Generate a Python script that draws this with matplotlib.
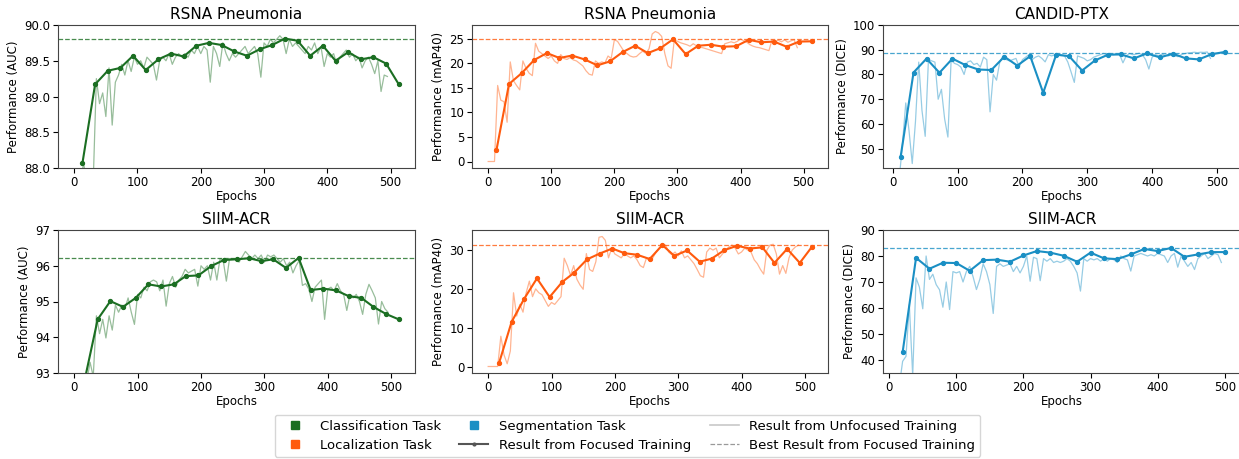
import numpy as np
import matplotlib
matplotlib.use("Agg")
import matplotlib.pyplot as plt
from matplotlib.lines import Line2D

# colours per task
GREEN = "#1b6e22"
ORANGE = "#ff5a0d"
BLUE = "#1a8fc4"

# ---- RSNA Pneumonia, classification (AUC) ----
cls1_ep = [13, 33, 53, 73, 93, 113, 133, 153, 173, 193, 213, 233, 253, 273, 293,
           313, 333, 353, 373, 393, 413, 433, 453, 473, 493, 513]
cls1_focus = [88.07, 89.17, 89.36, 89.40, 89.57, 89.37, 89.52, 89.60, 89.56, 89.71,
              89.75, 89.72, 89.63, 89.57, 89.66, 89.72, 89.81, 89.78, 89.57, 89.71,
              89.50, 89.62, 89.52, 89.55, 89.46, 89.17]
cls1_best = 89.81
cls1_start = 0
cls1_unfocus = [87.6, 87.7, 87.9, 88.05, 87.8, 87.7, 87.8, 89.25, 88.9, 89.05,
                88.72, 89.4, 88.6, 89.2, 89.3, 89.45, 89.3, 89.5, 89.35, 89.55,
                89.45, 89.5, 89.4, 89.55, 89.5, 89.45, 89.23, 89.5, 89.55, 89.5,
                89.6, 89.45, 89.55, 89.6, 89.55, 89.6, 89.55, 89.65, 89.6, 89.7,
                89.6, 89.7, 89.65, 89.2, 89.7, 89.6, 89.42, 89.75, 89.6, 89.5,
                89.6, 89.55, 89.6, 89.65, 89.7, 89.6, 89.65, 89.7, 89.6, 89.27,
                89.75, 89.7, 89.8, 89.75, 89.8, 89.85, 89.8, 89.6, 89.8, 89.7,
                89.75, 89.7, 89.65, 89.6, 89.7, 89.65, 89.75, 89.6, 89.7, 89.42,
                89.6, 89.55, 89.6, 89.45, 89.55, 89.6, 89.65, 89.55, 89.6, 89.5,
                89.55, 89.4, 89.5, 89.55, 89.45, 89.32, 89.5, 89.07, 89.3, 89.28]

# ---- RSNA Pneumonia, localization (mAP40) ----
loc1_ep = [13, 33, 53, 73, 93, 113, 133, 153, 173, 193, 213, 233, 253, 273, 293,
           313, 333, 353, 373, 393, 413, 433, 453, 473, 493, 513]
loc1_focus = [2.25, 15.8, 18.0, 20.7, 22.1, 21.1, 21.6, 20.8, 19.6, 20.4, 22.3, 23.6,
              22.1, 23.1, 24.9, 21.9, 23.6, 23.8, 23.4, 23.5, 24.8, 24.3, 24.45, 23.4,
              24.45, 24.5]
loc1_best = 24.9
loc1_start = 0
loc1_unfocus = [0, 0, 0, 15.5, 12.5, 12.2, 8.0, 20.3, 16.5, 15.5,
                14.6, 20.5, 19, 18, 17.5, 24.1, 22.5, 22, 21.5, 21,
                21.5, 20.5, 20, 21.8, 21, 20.8, 21.2, 20.7, 20.5, 20,
                19.5, 18.5, 17.8, 17.6, 20.5, 20, 20.3, 20.1, 21.5, 21,
                24.8, 24.5, 23.5, 22.5, 22, 21.5, 21.3, 21.4, 22, 22.5,
                22, 23, 26, 26.5, 26.2, 25.5, 22, 19.5, 19.0, 24.8,
                24.5, 24.2, 24, 23.8, 23.5, 24, 23.6, 23.3, 23.2, 23,
                22.8, 22.6, 22.4, 22.2, 22, 24, 24.2, 24.4, 24.2, 24.5,
                25, 24.6, 24.3, 23.8, 23.5, 23.3, 23.2, 23, 22.8, 22.6,
                24.8, 24.5, 24.7, 24.4, 24.8, 24.3, 24.6, 24.8, 23.2]

# ---- CANDID-PTX, segmentation (DICE) ----
seg1_ep = [12, 32, 52, 72, 92, 112, 132, 152, 172, 192, 212, 232, 252, 272, 292,
           312, 332, 352, 372, 392, 412, 432, 452, 472, 492, 512]
seg1_focus = [46.6, 80.8, 86.4, 80.7, 86.4, 83.8, 82.0, 81.8, 87.2, 83.6, 87.4, 72.6,
              88.0, 87.4, 81.6, 85.7, 88.0, 88.1, 86.5, 88.5, 86.9, 88.4, 86.5, 86.1,
              88.2, 89.1]
seg1_best = 88.65
seg1_start = 10
seg1_unfocus = [38, 52, 68.5, 57.4, 44, 61, 85, 65.5, 55, 86,
                85.5, 85, 70, 74, 62, 54.7, 86, 84.5, 84, 83,
                80, 85, 85.5, 84, 84.5, 83, 87, 86, 64.9, 80,
                77.7, 85, 87.5, 86, 85.5, 86, 86.5, 83, 86, 87,
                88, 86, 87, 87.5, 86.5, 85.1, 88, 87.5, 88, 88.2,
                88, 87.5, 85, 81, 76.8, 87.5, 87, 86.5, 85.5, 86,
                87, 87.5, 88, 88.5, 88, 88.5, 88, 88.3, 88, 84.7,
                87.5, 88.5, 88, 88.2, 88.6, 88, 86, 82.2, 87, 88,
                87.5, 88.2, 87.8, 87.5, 88, 87.5, 87.2, 88, 88.4, 88.7,
                88.8, 89, 88.8, 89, 88.9, 89.1, 86.5]

# ---- SIIM-ACR, classification (AUC) ----
cls2_ep = [17, 37, 57, 77, 97, 117, 137, 157, 176, 196, 216, 236, 256, 276, 295,
           314, 334, 354, 373, 393, 413, 433, 453, 472, 492, 512]
cls2_focus = [92.85, 94.50, 95.01, 94.85, 95.10, 95.48, 95.42, 95.48, 95.71, 95.73,
              95.99, 96.16, 96.18, 96.21, 96.13, 96.18, 95.94, 96.22, 95.32, 95.36,
              95.31, 95.15, 95.10, 94.85, 94.65, 94.50]
cls2_best = 96.21
cls2_start = 0
cls2_unfocus = [92.5, 92.5, 92.6, 92.7, 92.8, 93.3, 92.9, 94.6, 94.1, 94.5,
                93.98, 94.6, 94.2, 94.9, 94.7, 94.9, 94.8, 95.1, 94.7, 94.36,
                95.2, 95.1, 95.4, 95.3, 95.55, 95.6, 95.55, 95.3, 95.6, 94.87,
                95.5, 95.7, 95.4, 95.6, 95.7, 95.9, 95.8, 95.85, 95.9, 95.43,
                96.0, 95.9, 96.0, 95.6, 96.1, 95.6, 96.2, 96.15, 95.57, 96.2,
                96.2, 96.2, 96.1, 96.25, 96.4, 96.3, 96.2, 96.3, 96.2, 96.3,
                96.1, 96.3, 96.25, 96.3, 96.2, 96.1, 96.2, 96.0, 96.1, 95.8,
                96.0, 96.15, 95.45, 95.5, 95.35, 95.0, 95.4, 95.5, 95.6, 94.5,
                95.35, 95.4, 95.3, 95.5, 95.3, 95.2, 94.75, 95.2, 95.1, 95.2,
                95.0, 94.64, 95.2, 95.48, 95.3, 95.1, 94.37, 95.0, 94.8, 94.7]

# ---- SIIM-ACR, localization (mAP40) ----
loc2_ep = [17, 37, 57, 77, 97, 117, 136, 156, 176, 196, 215, 235, 255, 275, 294,
           314, 334, 353, 373, 393, 413, 433, 452, 472, 492, 511]
loc2_focus = [0.8, 11.5, 17.5, 22.7, 17.9, 21.8, 24.2, 27.6, 29.1, 30.4, 29.2, 28.8,
              27.7, 31.3, 28.5, 29.9, 27.0, 27.8, 30.0, 31.1, 30.4, 30.7, 26.7, 30.3,
              26.7, 30.8]
loc2_best = 31.3
loc2_start = 0
loc2_unfocus = [0, 0, 0, 0, 7.8, 3, 0.7, 4, 19, 13,
                16, 14, 19, 22, 18, 20, 19, 18.5, 17, 15.5,
                16.5, 16, 17, 18, 27.9, 26, 23.5, 26, 22.5, 21,
                19.9, 29.1, 25, 24.5, 27, 33.3, 33.5, 32.5, 28, 30.5,
                29, 28.5, 28, 29, 28.5, 28, 28.5, 27.5, 26, 25.5,
                28, 27.2, 28, 29.5, 30.5, 30.8, 31.3, 29.5, 28.8, 29.5,
                28.5, 29.8, 28, 28.5, 27.5, 26.5, 25, 23.4, 23, 29.5,
                30.5, 30, 30.5, 28, 29, 30, 30.8, 31.3, 30.5, 29,
                29.5, 30.5, 30, 29.5, 27.5, 26.5, 25, 23.8, 30, 31.3,
                31.5, 29, 23.8, 26, 24, 28, 30, 30.8, 31.3]

# ---- SIIM-ACR, segmentation (DICE) ----
seg2_ep = [20, 40, 60, 80, 100, 120, 140, 160, 180, 200, 220, 240, 260, 280, 300,
           320, 340, 360, 380, 400, 420, 440, 460, 480, 500]
seg2_focus = [43.0, 79.3, 75.1, 77.4, 77.3, 74.3, 78.4, 78.6, 77.8, 80.2, 81.9, 81.3,
              80.1, 77.8, 81.3, 79.1, 78.8, 80.6, 82.7, 81.9, 83.1, 79.7, 80.6, 81.5,
              81.5]
seg2_best = 83.06
seg2_start = 15
seg2_unfocus = [30, 39.5, 41.4, 61.3, 34, 71.6, 68, 59.7, 80, 71,
                73, 69, 67, 60.3, 70, 59.4, 74, 73.5, 74, 70,
                74, 76, 72, 67.1, 71, 77, 74, 69, 57.9, 76,
                77, 76, 76.5, 77, 74, 76, 73.5, 76, 80, 70.3,
                79.5, 79, 70.5, 79, 78, 79, 77.5, 78, 77.5, 78,
                79, 78, 76, 73.5, 66.5, 79, 78, 79, 78.5, 79,
                78, 79, 78, 79, 78.5, 77.5, 80, 79, 78.5, 74.2,
                80, 80.5, 81, 80.5, 80, 80.5, 80, 81, 80.5, 80,
                77.5, 80, 81, 75.7, 80, 78, 76, 77.5, 74.8, 79,
                80, 81, 79, 80, 81, 80.5, 77.5]

panels = [
    ("RSNA Pneumonia", "Performance (AUC)", GREEN, cls1_ep, cls1_focus, cls1_start, cls1_unfocus, cls1_best, (88.0, 90.0)),
    ("RSNA Pneumonia", "Performance (mAP40)", ORANGE, loc1_ep, loc1_focus, loc1_start, loc1_unfocus, loc1_best, None),
    ("CANDID-PTX", "Performance (DICE)", BLUE, seg1_ep, seg1_focus, seg1_start, seg1_unfocus, seg1_best, (42.2, 100)),
    ("SIIM-ACR", "Performance (AUC)", GREEN, cls2_ep, cls2_focus, cls2_start, cls2_unfocus, cls2_best, (93, 97)),
    ("SIIM-ACR", "Performance (mAP40)", ORANGE, loc2_ep, loc2_focus, loc2_start, loc2_unfocus, loc2_best, None),
    ("SIIM-ACR", "Performance (DICE)", BLUE, seg2_ep, seg2_focus, seg2_start, seg2_unfocus, seg2_best, (35, 90)),
]

W, H = 1239, 459
fig = plt.figure(figsize=(W / 100, H / 100), dpi=100)

lefts = [58, 472, 883]
widths = [357, 356, 358]
tops = [25, 230]
ax_h = 143

for i, (title, ylab, col, ep, foc, start, unf, best, ylim) in enumerate(panels):
    r, c = divmod(i, 3)
    ax = fig.add_axes([lefts[c] / W, 1 - (tops[r] + ax_h) / H, widths[c] / W, ax_h / H])
    u_ep = start + 5 * np.arange(len(unf))
    ax.plot(u_ep, unf, color=col, alpha=0.45, lw=0.9)
    ax.plot(ep, foc, color=col, lw=1.5, marker="o", ms=2.8)
    ax.axhline(best, color=col, lw=0.9, ls="--", alpha=0.8)
    if ylim is not None:
        ax.set_ylim(*ylim)
    ax.set_title(title, fontsize=11, pad=4)
    ax.set_xlabel("Epochs", fontsize=8.5, labelpad=1)
    ax.set_ylabel(ylab, fontsize=8.5, labelpad=3)
    ax.tick_params(labelsize=8.5, length=3.5, pad=2)
    for sp in ax.spines.values():
        sp.set_edgecolor("#444444")

handles = [
    Line2D([], [], color=GREEN, marker="s", ls="none", ms=6),
    Line2D([], [], color=ORANGE, marker="s", ls="none", ms=6),
    Line2D([], [], color=BLUE, marker="s", ls="none", ms=6),
    Line2D([], [], color="#555555", marker="o", ms=2, lw=1.5),
    Line2D([], [], color="#c8c8c8", lw=1.2),
    Line2D([], [], color="#999999", lw=0.9, ls="--"),
]
labels = ["Classification Task", "Localization Task", "Segmentation Task",
          "Result from Focused Training", "Result from Unfocused Training",
          "Best Result from Focused Training"]
fig.legend(handles, labels, loc="lower center", bbox_to_anchor=(0.5065, 0.0), ncol=3,
           fontsize=9.5, frameon=True, handlelength=2.2, columnspacing=1.4,
           labelspacing=0.45, borderpad=0.4, borderaxespad=0.15)

fig.savefig("out.png", dpi=100)
